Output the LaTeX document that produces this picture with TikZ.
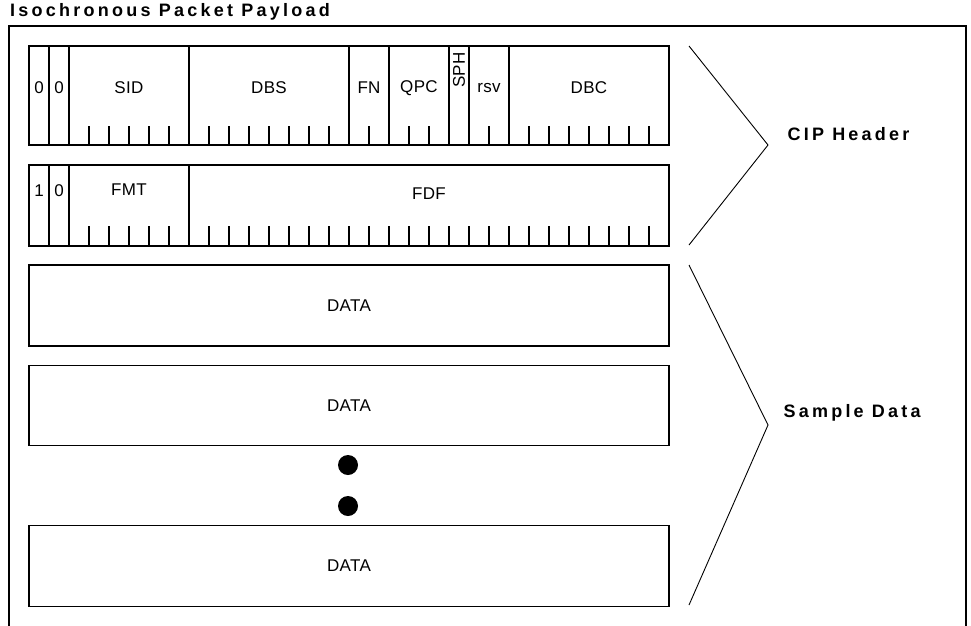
\documentclass[tikz,border=0pt]{standalone}
\usepackage{fontspec}
\setmainfont{Liberation Sans}
\usepackage{tikz}
\usetikzlibrary{positioning}

\tikzset{
  field/.style={draw,line width=1.4pt},
  bittick/.style={line width=1.2pt},
  lbl/.style={font=\fontsize{17}{17}\selectfont\addfontfeatures{LetterSpace=2}},
  hdr/.style={font=\fontsize{18}{18}\selectfont\bfseries\addfontfeatures{LetterSpace=18}},
  brace/.style={line width=0.9pt},
}

\begin{document}
\begin{tikzpicture}[x=1pt,y=-1pt,lbl]
\useasboundingbox (0,0) rectangle (971,625);
% outer frame, open at the bottom
\draw[line width=1.6pt] (9,640) -- (9,26) -- (966,26) -- (966,640);
\node[hdr,anchor=west,inner sep=0] (title) at (10,12) {Isochronous Packet Payload};
% first CIP quadlet
\draw[field] (29,46) rectangle (669,145);
\foreach \x in {49,69,189,349,389,449,469,509} \draw[field] (\x,46) -- (\x,145);
\foreach \x in {89,109,...,169} \draw[bittick] (\x,126) -- (\x,145);
\foreach \x in {209,229,...,329} \draw[bittick] (\x,126) -- (\x,145);
\foreach \x in {369,409,429,489} \draw[bittick] (\x,126) -- (\x,145);
\foreach \x in {529,549,...,649} \draw[bittick] (\x,126) -- (\x,145);
\node (eoh0) at (39,88) {0};
\node (form0) at (59,88) {0};
\node (sid) at (129,88) {SID};
\node (dbs) at (269,88) {DBS};
\node (fn) at (369,88) {FN};
\node (qpc) at (419,88) {QPC};
\node[rotate=90] (sph) at (459,70) {SPH};
\node (rsv) at (489,88) {rsv};
\node (dbc) at (589,88) {DBC};
% second CIP quadlet
\draw[field] (29,165) rectangle (669,246);
\foreach \x in {49,69,189} \draw[field] (\x,165) -- (\x,246);
\foreach \x in {89,109,...,169} \draw[bittick] (\x,226) -- (\x,246);
\foreach \x in {209,229,...,649} \draw[bittick] (\x,226) -- (\x,246);
\node (eoh1) at (39,191) {1};
\node (form1) at (59,191) {0};
\node (fmt) at (129,190) {FMT};
\node (fdf) at (429,194) {FDF};
% data quadlets
\node[field,minimum width=640pt,minimum height=81pt] (data1) at (349,305.5) {DATA};
\node[field,minimum width=640pt,minimum height=80pt] (data2) at (349,405.5) {DATA};
\node[circle,fill,inner sep=0,minimum size=20pt] (dot1) at (348,465) {};
\node[circle,fill,inner sep=0,minimum size=20pt] (dot2) at (348,506) {};
\node[field,minimum width=640pt,minimum height=81pt] (data3) at (349,566) {DATA};
% brackets
\coordinate (cipT) at (689,46);
\coordinate (cipV) at (768,145);
\coordinate (cipB) at (689,245);
\draw[brace] (cipT) -- (cipV) -- (cipB);
\node[hdr,anchor=west] (cip) at (784,134) {CIP Header};
\coordinate (smpT) at (689,265);
\coordinate (smpV) at (768,425);
\coordinate (smpB) at (689,605);
\draw[brace] (smpT) -- (smpV) -- (smpB);
\node[hdr,anchor=west] (smp) at (780,413) {Sample Data};
\end{tikzpicture}
\end{document}
